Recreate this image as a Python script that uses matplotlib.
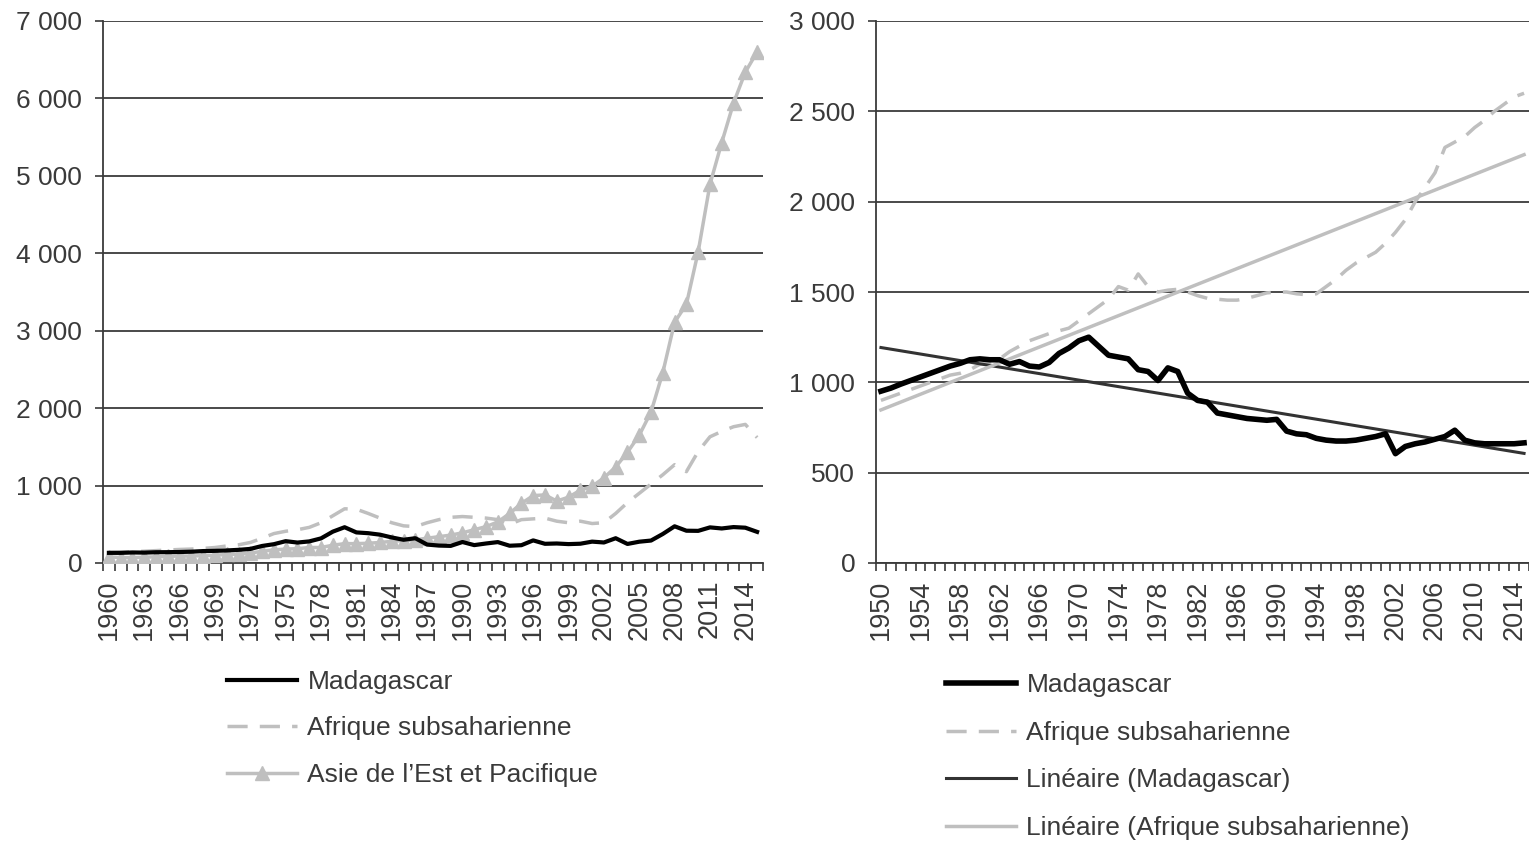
import numpy as np
import matplotlib.pyplot as plt
from matplotlib.ticker import FuncFormatter

plt.rcParams['font.family'] = ['Liberation Sans', 'DejaVu Sans']

# left panel : GDP per capita, current US$
years_usd = np.arange(1960, 2016)
mdg_usd = [131, 131, 136, 134, 139, 140, 142, 146, 154, 157,
           162, 170, 182, 220, 243, 282, 264, 279, 318, 405,
           462, 395, 385, 366, 330, 300, 320, 238, 225, 221,
           271, 231, 252, 270, 223, 230, 292, 248, 252, 244,
           249, 276, 265, 320, 246, 275, 290, 375, 474, 417,
           415, 460, 446, 464, 456, 402]
ssa_usd = [136, 140, 145, 152, 160, 168, 175, 180, 188, 200,
           220, 235, 265, 320, 380, 410, 430, 460, 520, 610,
           700, 695, 640, 580, 520, 480, 470, 520, 560, 590,
           600, 590, 580, 560, 500, 560, 570, 580, 540, 520,
           540, 510, 520, 640, 780, 900, 1020, 1140, 1270, 1180,
           1440, 1630, 1700, 1760, 1790, 1620]
eap_usd = [80, 70, 70, 75, 80, 85, 90, 90, 95, 100,
           110, 115, 130, 150, 170, 180, 185, 200, 200, 230,
           250, 250, 255, 265, 280, 290, 300, 320, 340, 360,
           390, 430, 470, 530, 640, 770, 870, 880, 800, 850,
           940, 990, 1100, 1240, 1430, 1650, 1950, 2460, 3110, 3340,
           4020, 4890, 5430, 5940, 6340, 6600]
ticks_usd = np.arange(1960, 2016, 3)

# right panel : GDP per capita, constant dollars
years_k = np.arange(1950, 2016)
mdg_k = [951, 968, 990, 1010, 1030, 1050, 1070, 1090, 1105, 1125,
         1130, 1125, 1125, 1100, 1115, 1090, 1085, 1110, 1160, 1190,
         1230, 1250, 1200, 1150, 1140, 1130, 1070, 1060, 1010, 1080,
         1060, 940, 900, 890, 830, 820, 810, 800, 795, 790,
         795, 730, 715, 710, 690, 680, 675, 675, 680, 690,
         700, 715, 605, 645, 660, 670, 685, 700, 735, 680,
         665, 660, 660, 660, 660, 665]
ssa_k = [900, 920, 940, 960, 980, 1000, 1020, 1040, 1050, 1070,
         1100, 1110, 1130, 1170, 1200, 1230, 1250, 1270, 1285, 1300,
         1340, 1380, 1420, 1460, 1530, 1510, 1600, 1530, 1500, 1510,
         1515, 1500, 1480, 1465, 1460, 1455, 1455, 1465, 1480, 1495,
         1500, 1500, 1490, 1485, 1490, 1530, 1570, 1620, 1660, 1690,
         1720, 1770, 1830, 1900, 2000, 2080, 2160, 2300, 2330, 2360,
         2410, 2450, 2500, 2540, 2580, 2600]
ticks_k = np.arange(1950, 2016, 4)

GRAY = '#BFBFBF'
DARK = '#3A3A3A'
W, H = 1529, 842

fig = plt.figure(figsize=(W / 100, H / 100), dpi=100)
ax1 = fig.add_axes([103 / W, 1 - 563 / H, (763 - 103) / W, (563 - 21) / H])
ax2 = fig.add_axes([876 / W, 1 - 563 / H, (W - 876) / W, (563 - 21) / H])

fmt = FuncFormatter(lambda v, p: f"{v:,.0f}".replace(",", " "))


def style(ax, years, tick_years, ymax, ystep, x_right):
    ax.set_xlim(years[0] - 0.5, x_right)
    ax.set_ylim(0, ymax)
    ax.set_yticks(np.arange(0, ymax + 1, ystep))
    ax.yaxis.set_major_formatter(fmt)
    ax.yaxis.grid(True, color=DARK, lw=1.3)
    ax.set_xticks(np.arange(years[0] - 0.5, years[-1] + 1), labels=[])
    ax.set_xticks(tick_years, labels=[str(y) for y in tick_years], minor=True)
    ax.tick_params(axis='x', which='major', length=6, width=1.2, color=DARK)
    ax.tick_params(axis='x', which='minor', length=0, pad=12,
                   labelrotation=90, labelsize=19.5, labelcolor=DARK)
    ax.tick_params(axis='y', length=6, width=1.2, color=DARK, pad=9,
                   labelsize=19, labelcolor=DARK)
    for s in ('top', 'right'):
        ax.spines[s].set_visible(False)
    for s in ('left', 'bottom'):
        ax.spines[s].set_color(DARK)
        ax.spines[s].set_linewidth(1.3)


style(ax1, years_usd, ticks_usd, 7000, 1000, years_usd[-1] + 0.5)
style(ax2, years_k, ticks_k, 3000, 500, years_k[0] - 0.5 + (W - 876) / 10)

ax1.plot(years_usd, mdg_usd, color='black', lw=3, label='Madagascar', zorder=4)
ax1.plot(years_usd, ssa_usd, color=GRAY, lw=2.5, dashes=(5.8, 3.5),
         label='Afrique subsaharienne', zorder=3)
ax1.plot(years_usd, eap_usd, color=GRAY, lw=2.5, marker='^', ms=10,
         label='Asie de l\u2019Est et Pacifique', zorder=3)

mdg_fit = np.polyval(np.polyfit(years_k, mdg_k, 1), years_k)
ssa_fit = np.polyval(np.polyfit(years_k, ssa_k, 1), years_k)

ax2.plot(years_k, mdg_k, color='black', lw=4, label='Madagascar', zorder=4)
ax2.plot(years_k, ssa_k, color=GRAY, lw=2.5, dashes=(5.8, 3.5),
         label='Afrique subsaharienne', zorder=3)
ax2.plot(years_k, mdg_fit, color='#333333', lw=2.2,
         label='Lin\u00e9aire (Madagascar)', zorder=3)
ax2.plot(years_k, ssa_fit, color=GRAY, lw=2.5,
         label='Lin\u00e9aire (Afrique subsaharienne)', zorder=3)

leg_kw = dict(frameon=False, fontsize=19, handlelength=2.65, handletextpad=0.4,
              borderpad=0, borderaxespad=0, labelcolor=DARK)
h1, l1 = ax1.get_legend_handles_labels()
fig.legend(h1, l1, loc='upper left', bbox_to_anchor=(227 / W, 1 - 670 / H),
           labelspacing=0.85, **leg_kw)
h2, l2 = ax2.get_legend_handles_labels()
fig.legend(h2, l2, loc='upper left', bbox_to_anchor=(946 / W, 1 - 673 / H),
           labelspacing=0.9, **leg_kw)

fig.savefig('out.png', dpi=100)
